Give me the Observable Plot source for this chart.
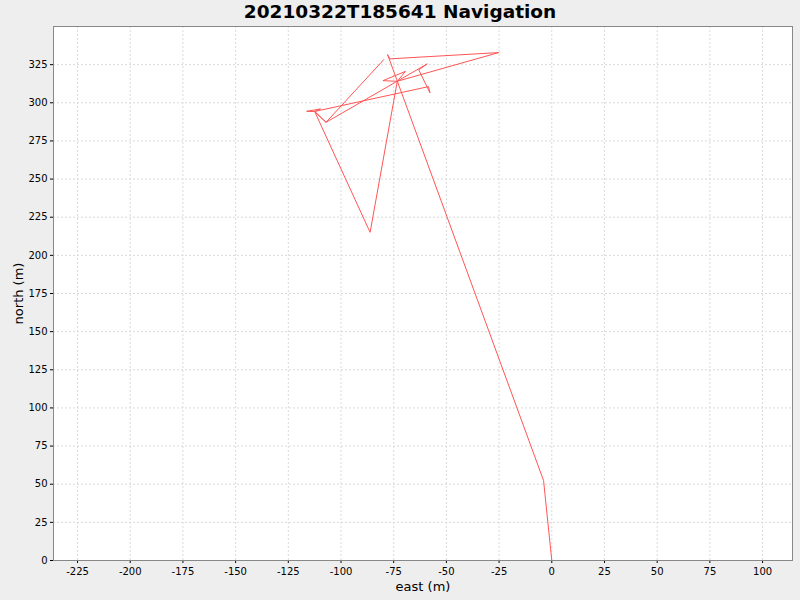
<!DOCTYPE html>
<html>
<head>
<meta charset="utf-8">
<script src="https://cdn.jsdelivr.net/npm/d3@7"></script>
<script src="https://cdn.jsdelivr.net/npm/@observablehq/plot@0.6"></script>
<style>
  html, body { margin: 0; padding: 0; background: #eeeeee; }
  #wrap { position: relative; width: 800px; height: 600px; background: #eeeeee; font-family: "DejaVu Sans", sans-serif; }
  #title { position: absolute; left: 0; top: 0; width: 800px; text-align: center; font-size: 18.5px; font-weight: bold; line-height: 24px; color: #000; }
  #chart { position: absolute; left: 0; top: 0; }
</style>
</head>
<body>
<div id="wrap">
  <div id="chart"></div>
  <div id="title">20210322T185641 Navigation</div>
</div>
<script>
const title = "20210322T185641 Navigation";
const xLabel = "east (m)";
const yLabel = "north (m)";
const xTicks = [-225, -200, -175, -150, -125, -100, -75, -50, -25, 0, 25, 50, 75, 100];
const yTicks = [0, 25, 50, 75, 100, 125, 150, 175, 200, 225, 250, 275, 300, 325];

// Navigation track (east, north) in metres, in time order
const east  = [0, -3.9, -77.9, -76.8, -25.2, -73.3, -80.1, -69.4, -73.3, -86.2, -112.5, -116.3, -109.7, -112.5, -107.1, -59.1, -63.1, -57.8, -58.5, -112.5, -107.1, -79.7];
const north = [0, 52.4, 331.6, 328.8, 332.9, 314.1, 314.5, 320.6, 314.1, 215.1, 294.3, 294.4, 296.0, 294.3, 287.2, 325.5, 321.6, 306.5, 310.6, 294.3, 287.2, 328.3];

const track = east.map((e, i) => ({east: e, north: north[i]}));

const chart = Plot.plot({
  width: 800,
  height: 600,
  marginLeft: 53,
  marginRight: 8,
  marginTop: 26,
  marginBottom: 40,
  style: { background: "transparent", fontFamily: "DejaVu Sans, sans-serif", fontSize: "10px", color: "#000" },
  x: { domain: [-236.4, 114.2], ticks: xTicks, tickFormat: d => String(d), tickSize: 3, tickPadding: 4, label: xLabel, labelAnchor: "center", labelArrow: "none", labelOffset: 30 },
  y: { domain: [0, 350], ticks: yTicks, tickFormat: d => String(d), tickSize: 3, tickPadding: 3, label: yLabel, labelAnchor: "center", labelArrow: "none", labelOffset: 40 },
  marks: [
    Plot.frame({ fill: "white" }),
    Plot.gridX(xTicks, { stroke: "#dadada", strokeOpacity: 1, strokeDasharray: "2,2" }),
    Plot.gridY(yTicks, { stroke: "#dadada", strokeOpacity: 1, strokeDasharray: "2,2" }),
    Plot.line(track, { x: "east", y: "north", stroke: "#ff5555", strokeWidth: 1 }),
    Plot.frame({ stroke: "#888888" })
  ]
});
document.getElementById("chart").appendChild(chart);
d3.select(chart).selectAll("[aria-label='x-axis label'] text, [aria-label='y-axis label'] text").style("font-size", "13px");
</script>
</body>
</html>
